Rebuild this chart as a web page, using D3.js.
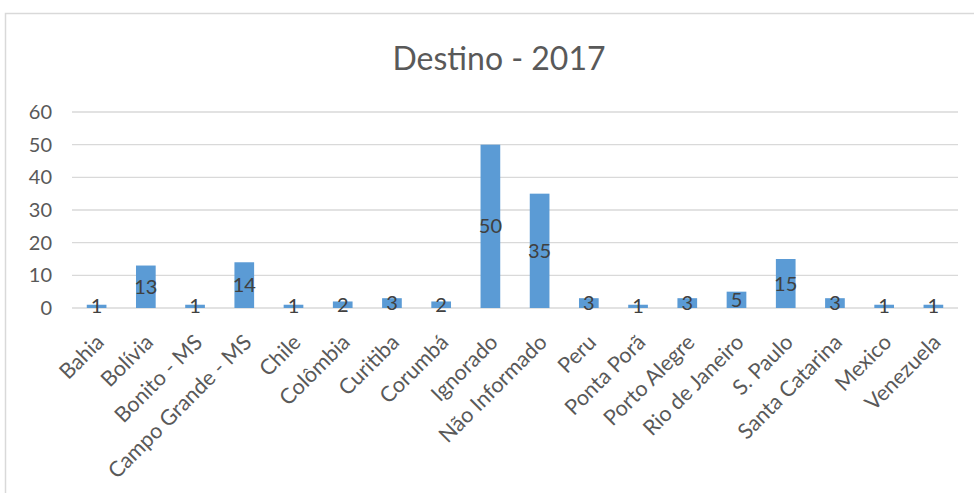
<!DOCTYPE html>
<html>
<head>
<meta charset="utf-8">
<script src="https://cdn.jsdelivr.net/npm/d3@7"></script>
<style>
  body { margin: 0; background: #fff; }
  svg { font-family: Lato, "Open Sans", sans-serif; }
</style>
</head>
<body>
<div id="plt"></div>
<script>
// data
var categories = ["Bahia", "Bolívia", "Bonito - MS", "Campo Grande - MS", "Chile", "Colômbia",
                  "Curitiba", "Corumbá", "Ignorado", "Não Informado", "Peru", "Ponta Porã",
                  "Porto Alegre", "Rio de Janeiro", "S. Paulo", "Santa Catarina", "Mexico", "Venezuela"];
var values = [1, 13, 1, 14, 1, 2, 3, 2, 50, 35, 3, 1, 3, 5, 15, 3, 1, 1];
var yTicks = [0, 10, 20, 30, 40, 50, 60];
var title = "Destino - 2017";

var W = 974, H = 493;
var margin = {top: 112, right: 16, bottom: 185, left: 72};
var width = W - margin.left - margin.right;
var height = H - margin.top - margin.bottom;

var root = d3.select("#plt").append("svg")
             .attr("width", W)
             .attr("height", H);

// chart frame
root.append("rect")
    .attr("x", 5.5).attr("y", 13.5)
    .attr("width", W + 20).attr("height", H + 20)
    .attr("fill", "none")
    .attr("stroke", "#d9d9d9")
    .attr("stroke-width", 1.5);

root.append("text")
    .attr("x", 499).attr("y", 69.5)
    .attr("text-anchor", "middle")
    .attr("fill", "#595959")
    .style("font-size", "32px")
    .text(title);

var svg = root.append("g")
              .attr("transform", "translate(" + margin.left + "," + margin.top + ")");

var x = d3.scaleBand()
          .domain(categories)
          .range([0, width])
          .paddingInner(0.6)
          .paddingOuter(0.3);

var y = d3.scaleLinear()
          .domain([0, 60])
          .range([height, 0]);

// gridlines
svg.selectAll(".grid")
   .data(yTicks)
   .enter()
   .append("line")
   .attr("x1", 0).attr("x2", width)
   .attr("y1", function(d) { return y(d); })
   .attr("y2", function(d) { return y(d); })
   .attr("stroke", "#d9d9d9")
   .attr("stroke-width", 1.3);

// y axis labels
svg.selectAll(".ylab")
   .data(yTicks)
   .enter()
   .append("text")
   .attr("x", -20)
   .attr("y", function(d) { return y(d); })
   .attr("dy", "0.35em")
   .attr("text-anchor", "end")
   .attr("fill", "#595959")
   .style("font-size", "20px")
   .text(function(d) { return d; });

// bars
svg.selectAll(".bar")
   .data(values)
   .enter()
   .append("rect")
   .attr("x", function(d, i) { return x(categories[i]); })
   .attr("y", function(d) { return y(d); })
   .attr("width", x.bandwidth())
   .attr("height", function(d) { return y(0) - y(d); })
   .attr("fill", "#5b9bd5");

// data labels at bar centre
svg.selectAll(".dlab")
   .data(values)
   .enter()
   .append("text")
   .attr("x", function(d, i) { return x(categories[i]) + x.bandwidth() / 2; })
   .attr("y", function(d) { return (y(d) + y(0)) / 2; })
   .attr("dy", "0.35em")
   .attr("text-anchor", "middle")
   .attr("fill", "#404040")
   .style("font-size", "20px")
   .text(function(d) { return d; });

// category labels
svg.selectAll(".xlab")
   .data(categories)
   .enter()
   .append("text")
   .attr("transform", function(d) {
     return "translate(" + (x(d) + x.bandwidth() / 2 - 2) + "," + (height + 25) + ")rotate(-45)";
   })
   .attr("dy", "0.7em")
   .attr("text-anchor", "end")
   .attr("fill", "#595959")
   .style("font-size", "21.5px")
   .text(function(d) { return d; });
</script>
</body>
</html>
